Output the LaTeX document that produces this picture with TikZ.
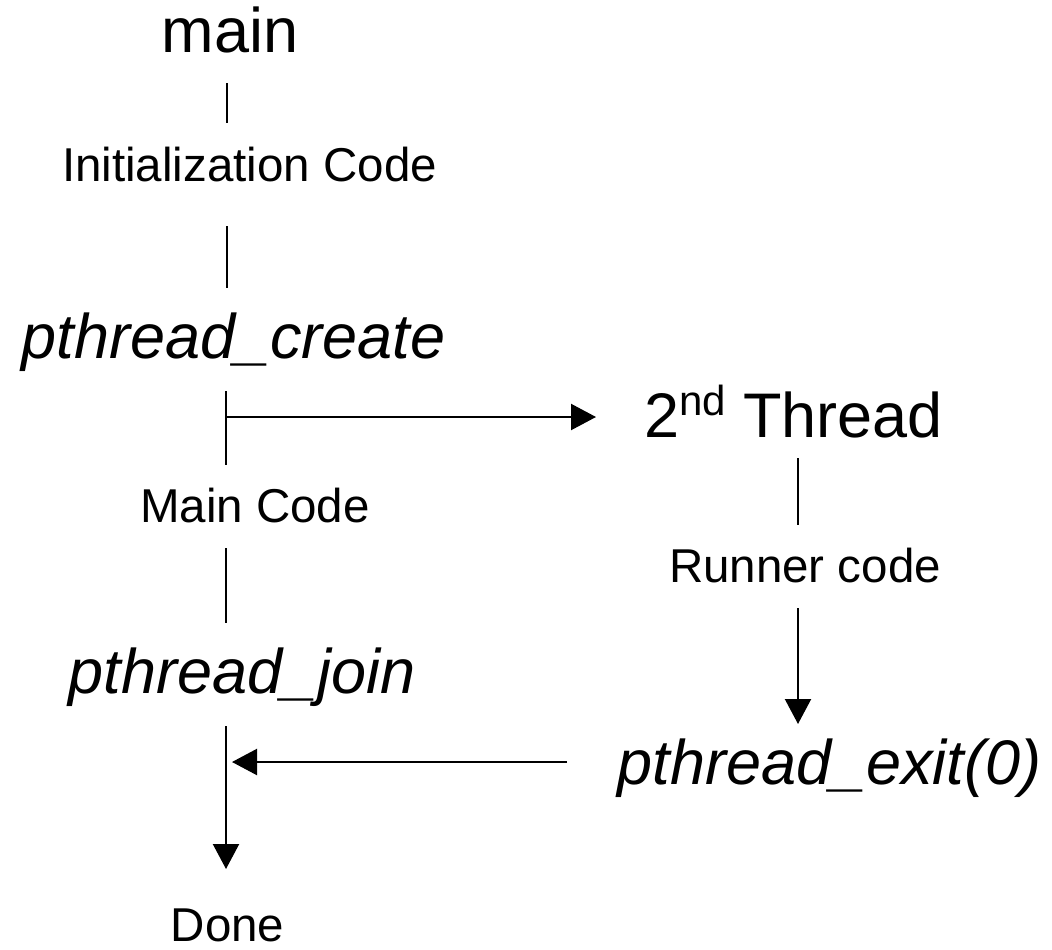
\documentclass[tikz,border=0pt]{standalone}
\usepackage{fontspec}
\setmainfont{Liberation Sans}
\usetikzlibrary{arrows.meta}
\begin{document}
\begin{tikzpicture}[x=1pt,y=-1pt,
  big/.style={inner sep=0pt,anchor=base,font=\fontsize{63}{70}\selectfont},
  bigit/.style={inner sep=0pt,anchor=base,font=\fontsize{63}{70}\selectfont\itshape},
  small/.style={inner sep=0pt,anchor=base,font=\fontsize{47.5}{55}\selectfont},
  conn/.style={line width=2.2pt,black},
  arr/.style={conn,-{Triangle[length=25pt,width=26pt]}}]
\useasboundingbox (0,0) rectangle (1052,950);
% texts
\node[big]   (main)   at (230,53)   {main};
\node[small] (init)   at (249.5,181){Initialization Code};
\node[bigit] (create) at (233.5,358){pthread\_create};
\node[big]   (second) at (793.5,437){2\raisebox{22pt}{\fontsize{42}{42}\selectfont nd} Thread};
\node[small] (mcode)  at (255,522)  {Main Code};
\node[small] (runner) at (805,582)  {Runner code};
\node[bigit] (join)   at (242,693)  {pthread\_join};
\node[bigit] (exit)   at (829.5,784){pthread\_exit(0)};
\node[small] (done)   at (227.5,941){Done};
% connector end points
\coordinate (m1) at (227,83);   \coordinate (m2) at (227,123);
\coordinate (i1) at (227,226);  \coordinate (i2) at (227,288);
\coordinate (c1) at (226,391);  \coordinate (c2) at (226,465);
\coordinate (f1) at (225,417);  \coordinate (f2) at (596,417);
\coordinate (t1) at (798,458);  \coordinate (t2) at (798,525);
\coordinate (r1) at (798,608);  \coordinate (r2) at (798,724);
\coordinate (k1) at (226,548);  \coordinate (k2) at (226,623);
\coordinate (j1) at (226,726);  \coordinate (j2) at (226,869);
\coordinate (e1) at (567,762);  \coordinate (e2) at (232,762);
% connectors
\draw[conn] (m1) -- (m2);
\draw[conn] (i1) -- (i2);
\draw[conn] (c1) -- (c2);
\draw[arr]  (f1) -- (f2);
\draw[conn] (t1) -- (t2);
\draw[arr]  (r1) -- (r2);
\draw[conn] (k1) -- (k2);
\draw[arr]  (j1) -- (j2);
\draw[arr]  (e1) -- (e2);
\end{tikzpicture}
\end{document}
